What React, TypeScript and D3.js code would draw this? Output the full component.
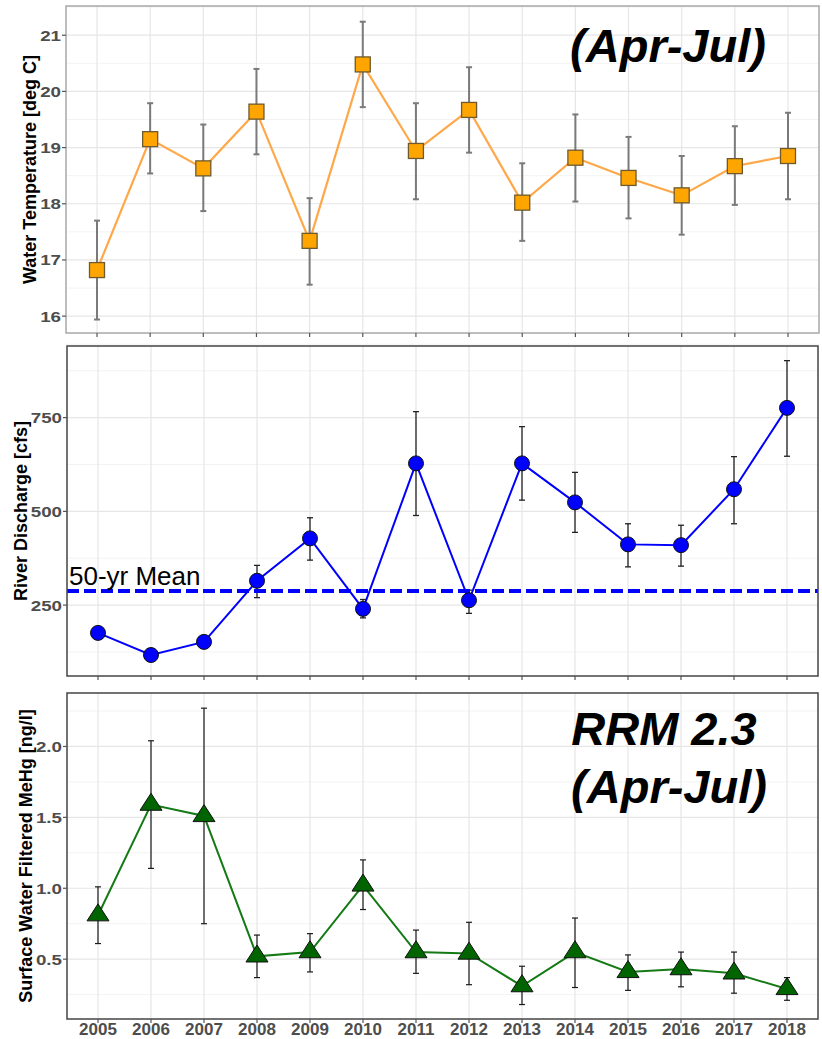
import React from "react";
import * as d3 from "d3";

const years = [2005, 2006, 2007, 2008, 2009, 2010, 2011, 2012, 2013, 2014, 2015, 2016, 2017, 2018];

const tempMean = [16.82, 19.15, 18.63, 19.64, 17.34, 20.48, 18.94, 19.67, 18.02, 18.82, 18.46, 18.15, 18.67, 18.85];
const tempLo = [15.94, 18.54, 17.87, 18.88, 16.56, 19.72, 18.08, 18.91, 17.34, 18.04, 17.74, 17.45, 17.98, 18.08];
const tempHi = [17.7, 19.79, 19.41, 20.4, 18.1, 21.24, 19.79, 20.43, 18.72, 19.59, 19.19, 18.85, 19.38, 19.62];
const tempTicks = [16, 17, 18, 19, 20, 21];
const tempMinor = [15.5, 16.5, 17.5, 18.5, 19.5, 20.5, 21.5];

const flowMean = [176, 117, 152, 315, 428, 240, 628, 263, 628, 524, 412, 410, 559, 776];
const flowLo: (number | null)[] = [null, null, null, 270, 370, 216, 489, 228, 530, 444, 352, 354, 467, 647];
const flowHi: (number | null)[] = [null, null, null, 356, 483, 265, 766, 290, 726, 604, 467, 463, 646, 902];
const flowTicks = [250, 500, 750];
const flowMinor = [125, 375, 625, 875];
const flowMean50 = 288;

const mehgMean = [0.81, 1.59, 1.51, 0.52, 0.55, 1.02, 0.55, 0.54, 0.31, 0.55, 0.41, 0.43, 0.4, 0.29];
const mehgLo = [0.61, 1.14, 0.75, 0.37, 0.41, 0.85, 0.4, 0.32, 0.18, 0.3, 0.28, 0.305, 0.26, 0.21];
const mehgHi = [1.01, 2.04, 2.27, 0.67, 0.68, 1.2, 0.705, 0.76, 0.45, 0.79, 0.53, 0.55, 0.55, 0.37];
const mehgTicks = [0.5, 1.0, 1.5, 2.0];
const mehgMinor = [0.25, 0.75, 1.25, 1.75, 2.25];

const W = 822;
const H = 1039;
const FONT = "Liberation Sans, Arial, Helvetica, sans-serif";

type PanelProps = {
  top: number;
  bottom: number;
  left: number;
  right: number;
  domain: [number, number];
  ticks: number[];
  minor: number[];
  fmt: (v: number) => string;
  title: string;
  titleX: number;
  titleSize: number;
  borderColor: string;
  showX: boolean;
  children: (x: d3.ScaleLinear<number, number>, y: d3.ScaleLinear<number, number>) => React.ReactNode;
};

function Panel(p: PanelProps) {
  const x = d3.scaleLinear().domain([2005, 2018]).range([p.left + 31, p.right - 31]);
  const y = d3.scaleLinear().domain(p.domain).range([p.bottom, p.top]);
  const cy = (p.top + p.bottom) / 2;
  return (
    <g>
      <rect x={p.left} y={p.top} width={p.right - p.left} height={p.bottom - p.top} fill="#fff" />
      {p.minor.map((v) => (
        <line key={"mi" + v} x1={p.left} x2={p.right} y1={y(v)} y2={y(v)} stroke="#f3f3f3" strokeWidth={1} />
      ))}
      {p.ticks.map((v) => (
        <line key={"ma" + v} x1={p.left} x2={p.right} y1={y(v)} y2={y(v)} stroke="#e6e6e6" strokeWidth={1.2} />
      ))}
      {years.map((yr) => (
        <line key={"vx" + yr} x1={x(yr)} x2={x(yr)} y1={p.top} y2={p.bottom} stroke="#e6e6e6" strokeWidth={1.2} />
      ))}
      {p.children(x, y)}
      <rect x={p.left} y={p.top} width={p.right - p.left} height={p.bottom - p.top} fill="none" stroke={p.borderColor} strokeWidth={1.5} />
      {p.ticks.map((v) => (
        <g key={"t" + v}>
          <line x1={p.left - 4} x2={p.left} y1={y(v)} y2={y(v)} stroke="#555" strokeWidth={1.2} />
          <text
            transform={`translate(${p.left - 5},${y(v)}) scale(1.25,1)`}
            dy="0.36em"
            textAnchor="end"
            fontFamily={FONT}
            fontWeight="bold"
            fontSize={15}
            fill="#4d4d4d"
          >
            {p.fmt(v)}
          </text>
        </g>
      ))}
      {years.map((yr) => (
        <g key={"xt" + yr}>
          <line x1={x(yr)} x2={x(yr)} y1={p.bottom} y2={p.bottom + 4} stroke="#555" strokeWidth={1.2} />
          {p.showX && (
            <text x={x(yr)} y={p.bottom + 16} textAnchor="middle" fontFamily={FONT} fontWeight="bold" fontSize={17} fill="#4d4d4d">
              {yr}
            </text>
          )}
        </g>
      ))}
      <text
        transform={`translate(${p.titleX},${cy}) rotate(-90)`}
        textAnchor="middle"
        dy="0.35em"
        fontFamily={FONT}
        fontWeight="bold"
        fontSize={p.titleSize}
        fill="#000"
      >
        {p.title}
      </text>
    </g>
  );
}

function ErrorBars({ x, y, lo, hi, color, width }: any) {
  return (
    <g>
      {years.map((yr, i) => {
        const a = lo[i];
        const b = hi[i];
        if (a == null || b == null) return null;
        const xx = x(yr);
        return (
          <g key={"e" + yr} stroke={color} strokeWidth={width}>
            <line x1={xx} x2={xx} y1={y(a)} y2={y(b)} />
            <line x1={xx - 3} x2={xx + 3} y1={y(a)} y2={y(a)} />
            <line x1={xx - 3} x2={xx + 3} y1={y(b)} y2={y(b)} />
          </g>
        );
      })}
    </g>
  );
}

export default function App() {
  const line = (x: any, y: any, vals: number[]) =>
    d3
      .line<number>()
      .x((_, i) => x(years[i]))
      .y((v) => y(v))(vals) as string;

  const triH = 17;
  const triW = 22;
  const triPath = `M0,${(-2 * triH) / 3}L${triW / 2},${triH / 3}L${-triW / 2},${triH / 3}Z`;

  return (
    <svg width={W} height={H} style={{ position: "absolute", left: 0, top: 0, background: "#fff" }}>
      <rect x={0} y={0} width={W} height={H} fill="#fff" />
      {/* Top panel: water temperature */}
      <Panel
        top={6}
        bottom={333}
        left={66}
        right={819}
        domain={[15.7, 21.52]}
        ticks={tempTicks}
        minor={tempMinor}
        fmt={(v) => String(v)}
        title="Water Temperature [deg C]"
        titleX={30}
        titleSize={18}
        borderColor="#a8a8a8"
        showX={false}
      >
        {(x, y) => (
          <g>
            <ErrorBars x={x} y={y} lo={tempLo} hi={tempHi} color="#7a7a7a" width={2} />
            <path d={line(x, y, tempMean)} fill="none" stroke="#ffa84a" strokeWidth={2.2} />
            {years.map((yr, i) => (
              <rect
                key={"s" + yr}
                x={x(yr) - 7.5}
                y={y(tempMean[i]) - 7.5}
                width={15}
                height={15}
                fill="#ffa500"
                stroke="#6e5a2e"
                strokeWidth={1.3}
              />
            ))}
            <text x={668} y={62} textAnchor="middle" fontFamily={FONT} fontWeight="bold" fontStyle="italic" fontSize={47} fill="#000">
              (Apr-Jul)
            </text>
          </g>
        )}
      </Panel>

      {/* Middle panel: river discharge */}
      <Panel
        top={346}
        bottom={676}
        left={67}
        right={818}
        domain={[61, 941]}
        ticks={flowTicks}
        minor={flowMinor}
        fmt={(v) => String(v)}
        title="River Discharge [cfs]"
        titleX={21}
        titleSize={18}
        borderColor="#444"
        showX={false}
      >
        {(x, y) => (
          <g>
            <ErrorBars x={x} y={y} lo={flowLo} hi={flowHi} color="#222" width={1.3} />
            <path d={line(x, y, flowMean)} fill="none" stroke="#0000ff" strokeWidth={2} />
            <line
              x1={67}
              x2={818}
              y1={y(flowMean50)}
              y2={y(flowMean50)}
              stroke="#0000ff"
              strokeWidth={4}
              strokeDasharray="12,5"
            />
            {years.map((yr, i) => (
              <circle key={"c" + yr} cx={x(yr)} cy={y(flowMean[i])} r={7.5} fill="#0000ff" stroke="#111" strokeWidth={1} />
            ))}
            <text x={69} y={y(flowMean50) - 6} fontFamily={FONT} fontSize={26} fill="#000">
              50-yr Mean
            </text>
          </g>
        )}
      </Panel>

      {/* Bottom panel: MeHg */}
      <Panel
        top={693}
        bottom={1019}
        left={67}
        right={818}
        domain={[0.078, 2.377]}
        ticks={mehgTicks}
        minor={mehgMinor}
        fmt={(v) => d3.format(".1f")(v)}
        title="Surface Water Filtered MeHg [ng/l]"
        titleX={26}
        titleSize={18}
        borderColor="#444"
        showX={true}
      >
        {(x, y) => (
          <g>
            <ErrorBars x={x} y={y} lo={mehgLo} hi={mehgHi} color="#1a1a1a" width={1.2} />
            <path d={line(x, y, mehgMean)} fill="none" stroke="#157a15" strokeWidth={2} />
            {years.map((yr, i) => (
              <path
                key={"tr" + yr}
                d={triPath}
                transform={`translate(${x(yr)},${y(mehgMean[i])})`}
                fill="#006400"
                stroke="#111"
                strokeWidth={1}
              />
            ))}
            <text x={664} y={745} textAnchor="middle" fontFamily={FONT} fontWeight="bold" fontStyle="italic" fontSize={47} fill="#000">
              RRM 2.3
            </text>
            <text x={669} y={803} textAnchor="middle" fontFamily={FONT} fontWeight="bold" fontStyle="italic" fontSize={47} fill="#000">
              (Apr-Jul)
            </text>
          </g>
        )}
      </Panel>
    </svg>
  );
}
